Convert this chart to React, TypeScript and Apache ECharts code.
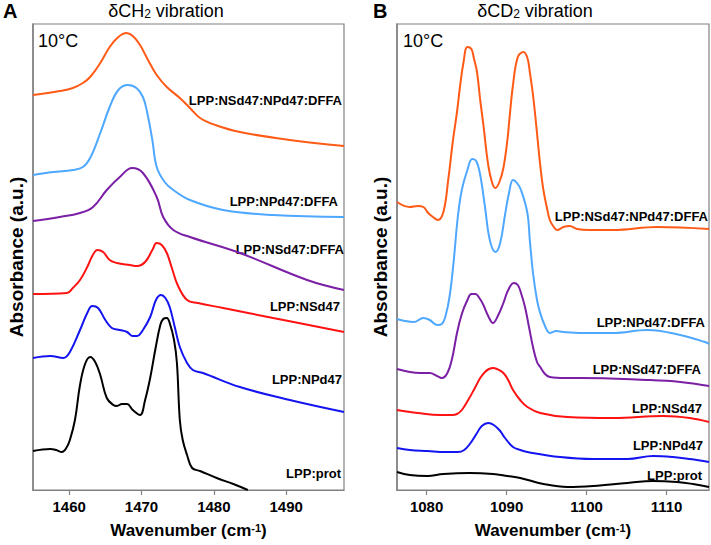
import React, { useEffect, useRef } from "react";
import * as echarts from "echarts";

const FONT = 'Arial, "Liberation Sans", Helvetica, sans-serif';

const ch2Ticks = [1460, 1470, 1480, 1490];
const cd2Ticks = [1080, 1090, 1100, 1110];
const seriesNames = [
  "LPP:NSd47:NPd47:DFFA",
  "LPP:NPd47:DFFA",
  "LPP:NSd47:DFFA",
  "LPP:NSd47",
  "LPP:NPd47",
  "LPP:prot",
];
const seriesColors = ["#ff5a16", "#4fa8ff", "#7a1fa6", "#ff1212", "#1414f0", "#000000"];

// Panel A: dCH2 vibration  [wavenumber, absorbance (a.u.)]
const ch2_NSd47NPd47DFFA = [
  [1455.0, 3.95], [1458.7, 3.99], [1460.5, 4.02], [1461.9, 4.07], [1462.9, 4.13], [1464.3, 4.27],
  [1465.6, 4.43], [1466.8, 4.53], [1467.9, 4.57], [1468.8, 4.54], [1469.8, 4.45], [1470.9, 4.3],
  [1472.1, 4.15], [1473.5, 4.03], [1475.3, 3.92], [1476.7, 3.82], [1478.1, 3.72], [1480.2, 3.65],
  [1483.6, 3.58], [1490.5, 3.5], [1498.0, 3.44],
];
const ch2_NPd47DFFA = [
  [1455.0, 3.15], [1457.8, 3.18], [1460.5, 3.2], [1461.9, 3.23], [1462.9, 3.32], [1464.3, 3.57],
  [1465.6, 3.83], [1466.8, 4.0], [1468.1, 4.05], [1469.3, 4.02], [1470.2, 3.93], [1470.8, 3.77],
  [1471.5, 3.5], [1472.1, 3.23], [1473.2, 3.08], [1474.4, 3.0], [1476.7, 2.9], [1481.3, 2.8],
  [1488.2, 2.75], [1498.0, 2.73],
];
const ch2_NSd47DFFA = [
  [1455.0, 2.69], [1458.7, 2.73], [1461.5, 2.77], [1463.3, 2.83], [1465.2, 3.0], [1467.0, 3.13],
  [1468.7, 3.22], [1470.2, 3.17], [1472.1, 2.93], [1473.0, 2.73], [1474.4, 2.6], [1476.7, 2.53],
  [1483.6, 2.37], [1492.9, 2.1], [1498.0, 2.0],
];
const ch2_NSd47 = [
  [1455.0, 1.96], [1459.7, 1.97], [1460.5, 2.02], [1461.5, 2.1], [1462.5, 2.23], [1463.2, 2.34],
  [1463.9, 2.4], [1464.7, 2.38], [1465.6, 2.3], [1466.6, 2.27], [1468.4, 2.25], [1469.4, 2.24],
  [1470.5, 2.28], [1471.5, 2.4], [1472.1, 2.47], [1472.8, 2.45], [1473.5, 2.37], [1474.2, 2.22],
  [1475.0, 2.05], [1476.3, 1.9], [1477.8, 1.87], [1481.3, 1.82], [1488.2, 1.72], [1498.0, 1.58],
];
const ch2_NPd47 = [
  [1455.0, 1.32], [1457.4, 1.34], [1459.2, 1.32], [1460.1, 1.38], [1461.5, 1.6], [1462.5, 1.77],
  [1463.2, 1.84], [1464.0, 1.82], [1465.0, 1.7], [1465.9, 1.62], [1467.0, 1.6], [1468.0, 1.58],
  [1468.8, 1.54], [1469.4, 1.54], [1470.2, 1.6], [1471.2, 1.73], [1472.0, 1.9], [1472.7, 1.95],
  [1473.3, 1.92], [1473.9, 1.83], [1474.6, 1.63], [1475.3, 1.43], [1476.3, 1.27], [1477.1, 1.2],
  [1478.5, 1.17], [1483.6, 1.03], [1490.5, 0.9], [1498.0, 0.78],
];
const ch2_prot = [
  [1455.0, 0.39], [1457.4, 0.41], [1458.2, 0.4], [1459.0, 0.38], [1459.6, 0.42], [1460.1, 0.5],
  [1460.8, 0.7], [1461.5, 1.05], [1462.2, 1.26], [1462.9, 1.33], [1463.6, 1.28], [1464.3, 1.15],
  [1465.2, 0.92], [1466.1, 0.85], [1466.6, 0.84], [1467.3, 0.86], [1468.0, 0.86], [1468.8, 0.8],
  [1469.8, 0.75], [1470.5, 0.9], [1471.2, 1.12], [1471.9, 1.4], [1472.6, 1.65], [1473.0, 1.71],
  [1473.5, 1.72], [1473.9, 1.67], [1474.5, 1.5], [1474.9, 1.27], [1475.3, 0.7], [1475.7, 0.5],
  [1476.3, 0.35], [1477.0, 0.22], [1478.1, 0.19], [1480.4, 0.12], [1482.7, 0.06], [1484.7, 0.0],
];

// Panel B: dCD2 vibration
const cd2_NSd47NPd47DFFA = [
  [1076.3, 2.88], [1077.9, 2.83], [1078.9, 2.84], [1079.6, 2.83], [1080.2, 2.77], [1080.8, 2.73],
  [1081.4, 2.7], [1082.1, 2.78], [1082.7, 3.1], [1083.3, 3.5], [1083.8, 3.78], [1084.2, 4.05],
  [1084.6, 4.27], [1085.1, 4.43], [1085.6, 4.41], [1085.9, 4.32], [1086.3, 4.18], [1086.7, 3.9],
  [1087.1, 3.65], [1087.7, 3.25], [1088.2, 3.07], [1088.6, 3.02], [1089.1, 3.08], [1089.6, 3.22],
  [1090.1, 3.5], [1090.4, 3.75], [1090.8, 4.05], [1091.4, 4.33], [1092.1, 4.38], [1092.6, 4.32],
  [1092.9, 4.18], [1093.3, 3.95], [1093.7, 3.65], [1094.2, 3.25], [1094.6, 3.0], [1095.1, 2.8],
  [1095.4, 2.7], [1095.9, 2.63], [1096.3, 2.6], [1097.1, 2.63], [1097.9, 2.64], [1098.8, 2.61],
  [1100.4, 2.6], [1103.3, 2.6], [1108.8, 2.63], [1115.3, 2.61],
];
const cd2_NPd47DFFA = [
  [1076.3, 1.71], [1077.3, 1.69], [1078.4, 1.68], [1079.6, 1.72], [1080.4, 1.7], [1081.3, 1.65],
  [1081.9, 1.66], [1082.4, 1.75], [1082.9, 1.95], [1083.4, 2.3], [1083.9, 2.73], [1084.4, 3.0],
  [1085.1, 3.2], [1085.7, 3.31], [1086.2, 3.29], [1086.7, 3.15], [1087.3, 2.83], [1087.9, 2.5],
  [1088.6, 2.38], [1089.2, 2.47], [1089.8, 2.75], [1090.3, 2.97], [1090.8, 3.1], [1091.3, 3.07],
  [1091.8, 3.0], [1092.6, 2.77], [1092.9, 2.5], [1093.3, 2.17], [1093.8, 1.9], [1094.2, 1.77],
  [1094.8, 1.64], [1095.4, 1.57], [1096.2, 1.59], [1097.1, 1.58], [1099.2, 1.57], [1103.3, 1.57],
  [1107.6, 1.6], [1111.7, 1.55], [1114.8, 1.48], [1115.3, 1.46],
];
const cd2_NSd47DFFA = [
  [1076.3, 1.21], [1077.9, 1.18], [1079.2, 1.17], [1080.4, 1.17], [1081.3, 1.14], [1081.9, 1.12],
  [1082.6, 1.17], [1083.2, 1.32], [1083.8, 1.57], [1084.4, 1.76], [1085.1, 1.9], [1085.6, 1.96],
  [1086.1, 1.96], [1086.6, 1.92], [1087.1, 1.85], [1087.7, 1.74], [1088.3, 1.67], [1088.9, 1.74],
  [1089.6, 1.87], [1090.2, 2.0], [1090.9, 2.07], [1091.4, 2.05], [1091.8, 1.97], [1092.3, 1.83],
  [1092.8, 1.63], [1093.3, 1.43], [1093.8, 1.28], [1094.2, 1.23], [1094.8, 1.16], [1095.4, 1.13],
  [1097.3, 1.12], [1099.2, 1.12], [1107.6, 1.1], [1111.7, 1.08], [1115.3, 1.04],
];
const cd2_NSd47 = [
  [1076.3, 0.8], [1078.9, 0.77], [1081.7, 0.75], [1083.2, 0.75], [1083.8, 0.76], [1084.4, 0.8],
  [1085.2, 0.9], [1086.1, 1.03], [1086.7, 1.12], [1087.3, 1.18], [1087.8, 1.21], [1088.3, 1.22],
  [1088.8, 1.21], [1089.6, 1.17], [1090.2, 1.1], [1090.8, 1.0], [1091.7, 0.9], [1092.6, 0.83],
  [1094.2, 0.77], [1097.6, 0.73], [1103.3, 0.72], [1109.6, 0.74], [1112.9, 0.72], [1115.3, 0.68],
];
const cd2_NPd47 = [
  [1076.3, 0.42], [1077.9, 0.4], [1080.1, 0.39], [1082.3, 0.38], [1083.9, 0.38], [1084.7, 0.4],
  [1085.4, 0.46], [1086.3, 0.57], [1086.9, 0.64], [1087.7, 0.67], [1088.4, 0.65], [1089.2, 0.59],
  [1089.8, 0.52], [1090.8, 0.43], [1091.7, 0.4], [1092.6, 0.38], [1096.7, 0.33], [1100.8, 0.31],
  [1105.1, 0.31], [1108.3, 0.34], [1110.8, 0.33], [1112.9, 0.31], [1115.3, 0.28],
];
const cd2_prot = [
  [1076.3, 0.18], [1077.9, 0.15], [1080.1, 0.14], [1082.1, 0.16], [1085.4, 0.17], [1088.3, 0.16],
  [1090.1, 0.14], [1091.7, 0.12], [1094.6, 0.06], [1097.6, 0.03], [1100.8, 0.04], [1105.1, 0.07],
  [1108.3, 0.09], [1111.3, 0.08], [1113.3, 0.06], [1115.3, 0.03],
];

const panelA = [ch2_NSd47NPd47DFFA, ch2_NPd47DFFA, ch2_NSd47DFFA, ch2_NSd47, ch2_NPd47, ch2_prot];
const panelB = [cd2_NSd47NPd47DFFA, cd2_NPd47DFFA, cd2_NSd47DFFA, cd2_NSd47, cd2_NPd47, cd2_prot];

// label anchor points (right edge x, center y) in pixels
const labelPosA = [[342, 100], [338, 201], [344, 249], [340, 306], [342, 379], [341, 473]];
const labelPosB = [[708, 216], [705, 322], [701, 369], [702, 408], [703, 445], [702, 475]];

export default function App() {
  const ref = useRef<HTMLDivElement>(null);
  useEffect(() => {
    document.body.style.margin = "0";
    const chart = echarts.init(ref.current!, null, { renderer: "svg" });

    const xName = "{a|Wavenumber (cm}{s|-1}{a|)}";
    const xNameStyle = {
      color: "#000",
      fontFamily: FONT,
      rich: {
        a: { fontSize: 17, fontWeight: "bold", fontFamily: FONT, color: "#000" },
        s: { fontSize: 11, fontWeight: "bold", fontFamily: FONT, color: "#000", verticalAlign: "top" },
      },
    };
    const mkX = (grid: number, min: number, max: number, ticks: number[]) => ({
      gridIndex: grid,
      type: "value",
      min,
      max,
      axisLine: { show: true, onZero: false, lineStyle: { color: "#808080", width: 1.2 } },
      axisTick: { show: true, customValues: ticks, length: 5, lineStyle: { color: "#808080", width: 1.2 } },
      axisLabel: {
        customValues: ticks,
        formatter: (v: number) => String(v),
        fontSize: 15,
        fontWeight: "bold",
        color: "#000",
        fontFamily: FONT,
        margin: 9,
      },
      splitLine: { show: false },
      name: xName,
      nameLocation: "middle",
      nameGap: 32,
      nameTextStyle: xNameStyle,
    });
    const mkY = (grid: number) => ({
      gridIndex: grid,
      type: "value",
      min: 0,
      max: 4.66,
      axisLine: { show: true, lineStyle: { color: "#808080", width: 1.5 } },
      axisTick: { show: false },
      axisLabel: { show: false },
      splitLine: { show: false },
      name: "Absorbance (a.u.)",
      nameLocation: "middle",
      nameGap: 7,
      nameTextStyle: { fontSize: 19, fontWeight: "bold", color: "#000", fontFamily: FONT },
    });

    const series: any[] = [];
    [panelA, panelB].forEach((panel, gi) => {
      panel.forEach((data, i) => {
        series.push({
          type: "line",
          name: seriesNames[i],
          xAxisIndex: gi,
          yAxisIndex: gi,
          data,
          showSymbol: false,
          smooth: 0.4,
          silent: true,
          lineStyle: { color: seriesColors[i], width: 2 },
        });
      });
    });

    const labelEls: any[] = [];
    [labelPosA, labelPosB].forEach((pos) => {
      pos.forEach((p, i) => {
        labelEls.push({
          type: "text",
          x: p[0],
          y: p[1],
          silent: true,
          style: {
            text: seriesNames[i],
            align: "right",
            verticalAlign: "middle",
            fontSize: 13,
            fontWeight: "bold",
            fontFamily: FONT,
            fill: "#000",
          },
        });
      });
    });

    const titleRich = {
      a: { fontSize: 18, fontFamily: FONT, color: "#000" },
      s: { fontSize: 12, fontFamily: FONT, color: "#000", verticalAlign: "bottom" },
    };

    chart.setOption({
      animation: false,
      backgroundColor: "#fff",
      grid: [
        { left: 33, right: 367, top: 24, bottom: 55, show: true, borderColor: "#808080", borderWidth: 1.2 },
        { left: 397, right: 2, top: 24, bottom: 55, show: true, borderColor: "#808080", borderWidth: 1.2 },
      ],
      xAxis: [mkX(0, 1455, 1498, ch2Ticks), mkX(1, 1076.3, 1115.3, cd2Ticks)],
      yAxis: [mkY(0), mkY(1)],
      series,
      graphic: [
        {
          type: "text", x: 3, y: 11, silent: true,
          style: { text: "A", fontSize: 20, fontWeight: "bold", fontFamily: FONT, fill: "#000", verticalAlign: "middle" },
        },
        {
          type: "text", x: 373, y: 11, silent: true,
          style: { text: "B", fontSize: 20, fontWeight: "bold", fontFamily: FONT, fill: "#000", verticalAlign: "middle" },
        },
        {
          type: "text", x: 166, y: 11, silent: true,
          style: { text: "{a|δCH}{s|2}{a| vibration}", rich: titleRich, align: "center", verticalAlign: "middle" },
        },
        {
          type: "text", x: 535, y: 11, silent: true,
          style: { text: "{a|δCD}{s|2}{a| vibration}", rich: titleRich, align: "center", verticalAlign: "middle" },
        },
        {
          type: "text", x: 38, y: 41, silent: true,
          style: { text: "10°C", fontSize: 18, fontFamily: FONT, fill: "#000", verticalAlign: "middle" },
        },
        {
          type: "text", x: 403, y: 41, silent: true,
          style: { text: "10°C", fontSize: 18, fontFamily: FONT, fill: "#000", verticalAlign: "middle" },
        },
        ...labelEls,
      ],
    });
    return () => chart.dispose();
  }, []);
  return (
    <div
      ref={ref}
      style={{ width: 711, height: 545, position: "absolute", left: 0, top: 0, background: "#fff" }}
    />
  );
}
